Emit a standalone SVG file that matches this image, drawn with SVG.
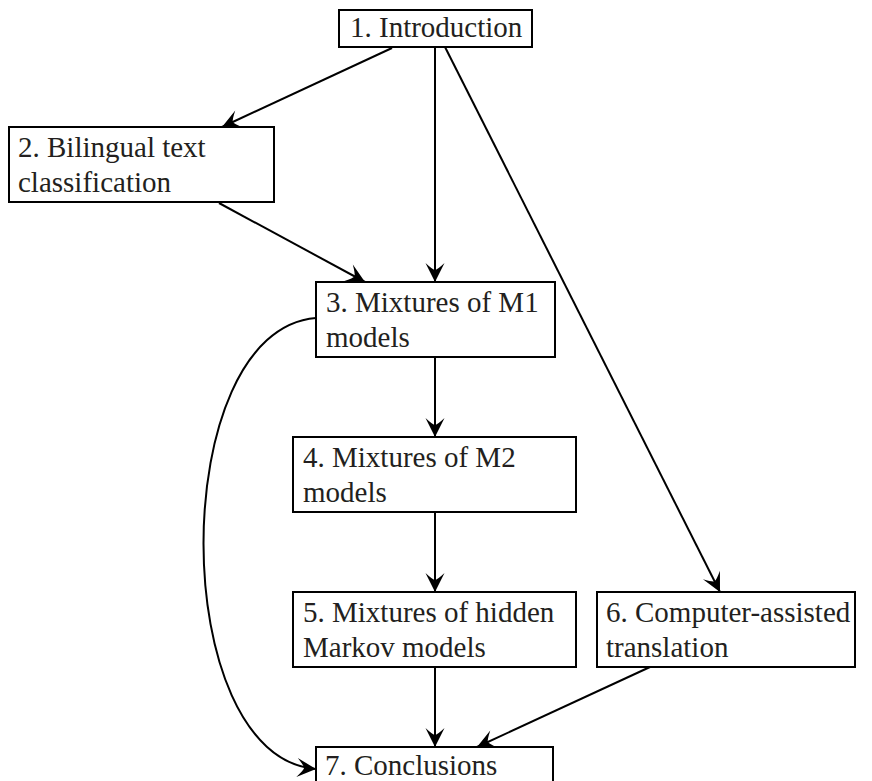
<svg xmlns="http://www.w3.org/2000/svg" width="872" height="781" viewBox="0 0 872 781">
<style>
.box{fill:#fff;stroke:#000;stroke-width:2}
.t{font-family:"Liberation Serif","Times New Roman",serif;font-size:29px;fill:#231f20}
.c{fill:none;stroke:#000;stroke-width:2}
</style>
<defs>
<marker id="ah" viewBox="-20 -10 21 20" refX="0" refY="0" markerWidth="21" markerHeight="20" orient="auto" markerUnits="userSpaceOnUse">
<path d="M0,0 L-19,-9.5 Q-12,-2 -12,0 Q-12,2 -19,9.5 Z" fill="#000"/>
</marker>
</defs>
<g id="connectors">
<line class="c" x1="392" y1="48" x2="222" y2="127" marker-end="url(#ah)"/>
<line class="c" x1="435" y1="47" x2="435" y2="282" marker-end="url(#ah)"/>
<line class="c" x1="445" y1="47" x2="720" y2="592" marker-end="url(#ah)"/>
<line class="c" x1="219" y1="203" x2="365" y2="282" marker-end="url(#ah)"/>
<line class="c" x1="435" y1="357" x2="435" y2="437" marker-end="url(#ah)"/>
<line class="c" x1="435" y1="512" x2="435" y2="592" marker-end="url(#ah)"/>
<line class="c" x1="435" y1="667" x2="435" y2="747" marker-end="url(#ah)"/>
<line class="c" x1="650" y1="667" x2="477" y2="747" marker-end="url(#ah)"/>
<path class="c" d="M316,318 C166,330 166,757 316,769" marker-end="url(#ah)"/>
</g>
<g id="n1">
<rect class="box" x="339" y="10" width="193" height="37"/>
<text class="t" x="350" y="37">1. Introduction</text>
</g>
<g id="n2">
<rect class="box" x="9" y="127" width="265" height="75"/>
<text class="t" x="18" y="157">2. Bilingual text</text>
<text class="t" x="18" y="192">classification</text>
</g>
<g id="n3">
<rect class="box" x="316" y="282" width="239" height="75"/>
<text class="t" x="326" y="312">3. Mixtures of M1</text>
<text class="t" x="326" y="347">models</text>
</g>
<g id="n4">
<rect class="box" x="293" y="437" width="283" height="75"/>
<text class="t" x="303" y="467">4. Mixtures of M2</text>
<text class="t" x="303" y="502">models</text>
</g>
<g id="n5">
<rect class="box" x="293" y="592" width="283" height="75"/>
<text class="t" x="303" y="622">5. Mixtures of hidden</text>
<text class="t" x="303" y="657">Markov models</text>
</g>
<g id="n6">
<rect class="box" x="597" y="592" width="258" height="75"/>
<text class="t" x="606" y="622">6. Computer-assisted</text>
<text class="t" x="606" y="657">translation</text>
</g>
<g id="n7">
<rect class="box" x="316" y="747" width="237" height="50"/>
<text class="t" x="325" y="775">7. Conclusions</text>
</g>
</svg>
